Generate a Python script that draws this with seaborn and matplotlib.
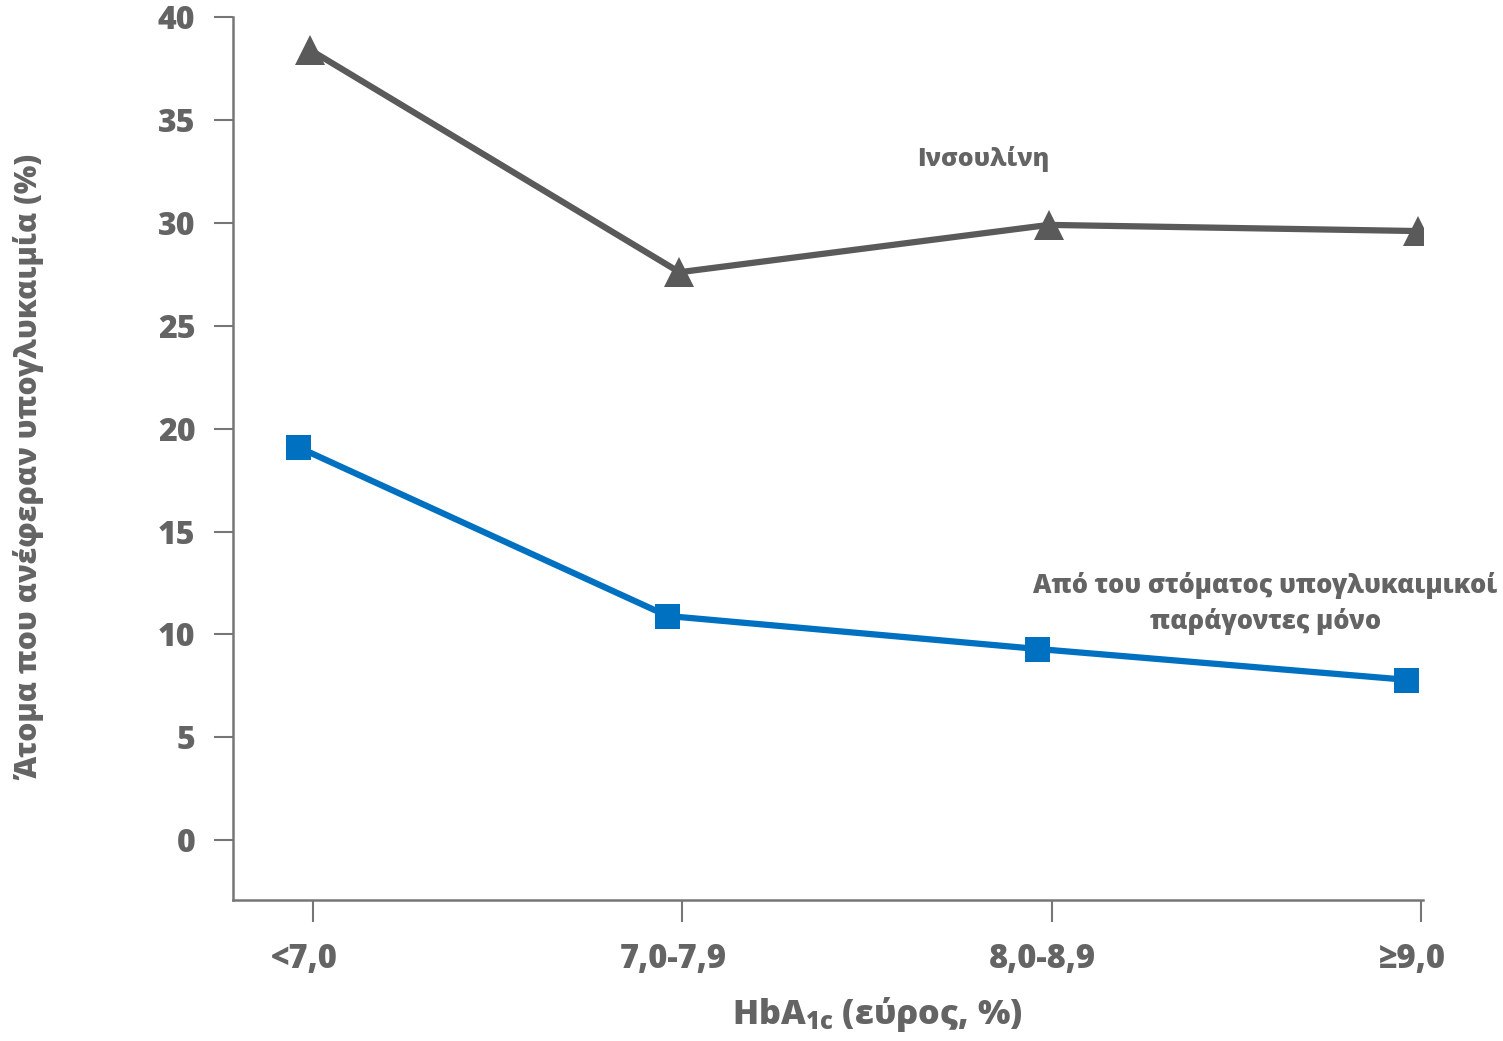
import numpy as np
import pandas as pd
import matplotlib
matplotlib.use("Agg")
import matplotlib.pyplot as plt
from matplotlib.transforms import ScaledTranslation
import seaborn as sns

# HbA1c ranges and share of people reporting hypoglycaemia (%)
categories = ["<7,0", "7,0-7,9", "8,0-8,9", "≥9,0"]
insulin = [38.4, 27.6, 29.9, 29.6]
oral_only = [19.1, 10.9, 9.3, 7.8]
y_ticks = [0, 5, 10, 15, 20, 25, 30, 35, 40]

GRAY_TEXT = "#646464"
GRAY_LINE = "#5a5a5a"
BLUE = "#0070C0"
AXIS = "#767676"
WEIGHT = 800

sns.set_theme(style="white")
plt.rcParams["font.family"] = ["Open Sans", "DejaVu Sans"]
plt.rcParams["font.weight"] = WEIGHT
plt.rcParams["mathtext.default"] = "regular"

df = pd.DataFrame({
    "pos": np.arange(len(categories)),
    "insulin": insulin,
    "oral": oral_only,
})

fig = plt.figure(figsize=(15.03, 10.41), dpi=100)
ax = fig.add_axes([233 / 1503, 1 - 900 / 1041, 1190 / 1503, (900 - 17) / 1041])

sns.lineplot(data=df, x="pos", y="insulin", ax=ax, color=GRAY_LINE, lw=4.5,
             marker="^", markersize=21, markeredgewidth=0, markerfacecolor=GRAY_LINE)
sns.lineplot(data=df, x="pos", y="oral", ax=ax, color=BLUE, lw=4.5,
             marker="s", markersize=18, markeredgewidth=0, markerfacecolor=BLUE)

# shift each series slightly left of its tick
for line, dx_px in zip(ax.lines, [-3, -15]):
    line.set_transform(ax.transData + ScaledTranslation(dx_px / 100, 0, fig.dpi_scale_trans))

ax.set_xlim(-0.217, 3.005)
ax.set_ylim(-2.9, 40.0)
ax.set_xticks(np.arange(len(categories)))
ax.set_xticklabels(categories)
ax.set_yticks(y_ticks)
ax.set_xlabel("")
ax.set_ylabel("")

for side in ["top", "right"]:
    ax.spines[side].set_visible(False)
for side in ["left", "bottom"]:
    ax.spines[side].set_color(AXIS)
    ax.spines[side].set_linewidth(1.8)

ax.tick_params(axis="y", direction="out", length=14, width=1.5, color=AXIS,
               pad=13, labelsize=23, labelcolor=GRAY_TEXT, left=True)
ax.tick_params(axis="x", direction="out", length=16, width=1.5, color=AXIS,
               pad=14, labelsize=23.5, labelcolor=GRAY_TEXT, bottom=True)
for lbl in ax.get_xticklabels() + ax.get_yticklabels():
    lbl.set_fontweight(WEIGHT)

# nudge category labels a little to the left
for lbl in ax.get_xticklabels():
    lbl.set_transform(lbl.get_transform() + ScaledTranslation(-9 / 100, 0, fig.dpi_scale_trans))

# series labels
ax.text(1.814, 33.1, "Ινσουλίνη", ha="center", va="center",
        fontsize=17.8, fontweight=WEIGHT, color=GRAY_TEXT)
ax.text(2.578, 11.5, "Από του στόματος υπογλυκαιμικοί\nπαράγοντες μόνο",
        ha="center", va="center", fontsize=18.4, fontweight=WEIGHT,
        color=GRAY_TEXT, linespacing=1.45)

# axis titles
fig.text(30 / 1503, 1 - 467 / 1041, "Άτομα που ανέφεραν υπογλυκαιμία (%)",
         rotation=90, ha="center", va="center", fontsize=21.7,
         fontweight=WEIGHT, color=GRAY_TEXT)
fig.text(877 / 1503, 1 - 1015 / 1041, "HbA$_{1c}$ (εύρος, %)",
         ha="center", va="center", fontsize=24.6, fontweight=WEIGHT,
         color=GRAY_TEXT)

fig.savefig("out.png", dpi=100, facecolor="white")
